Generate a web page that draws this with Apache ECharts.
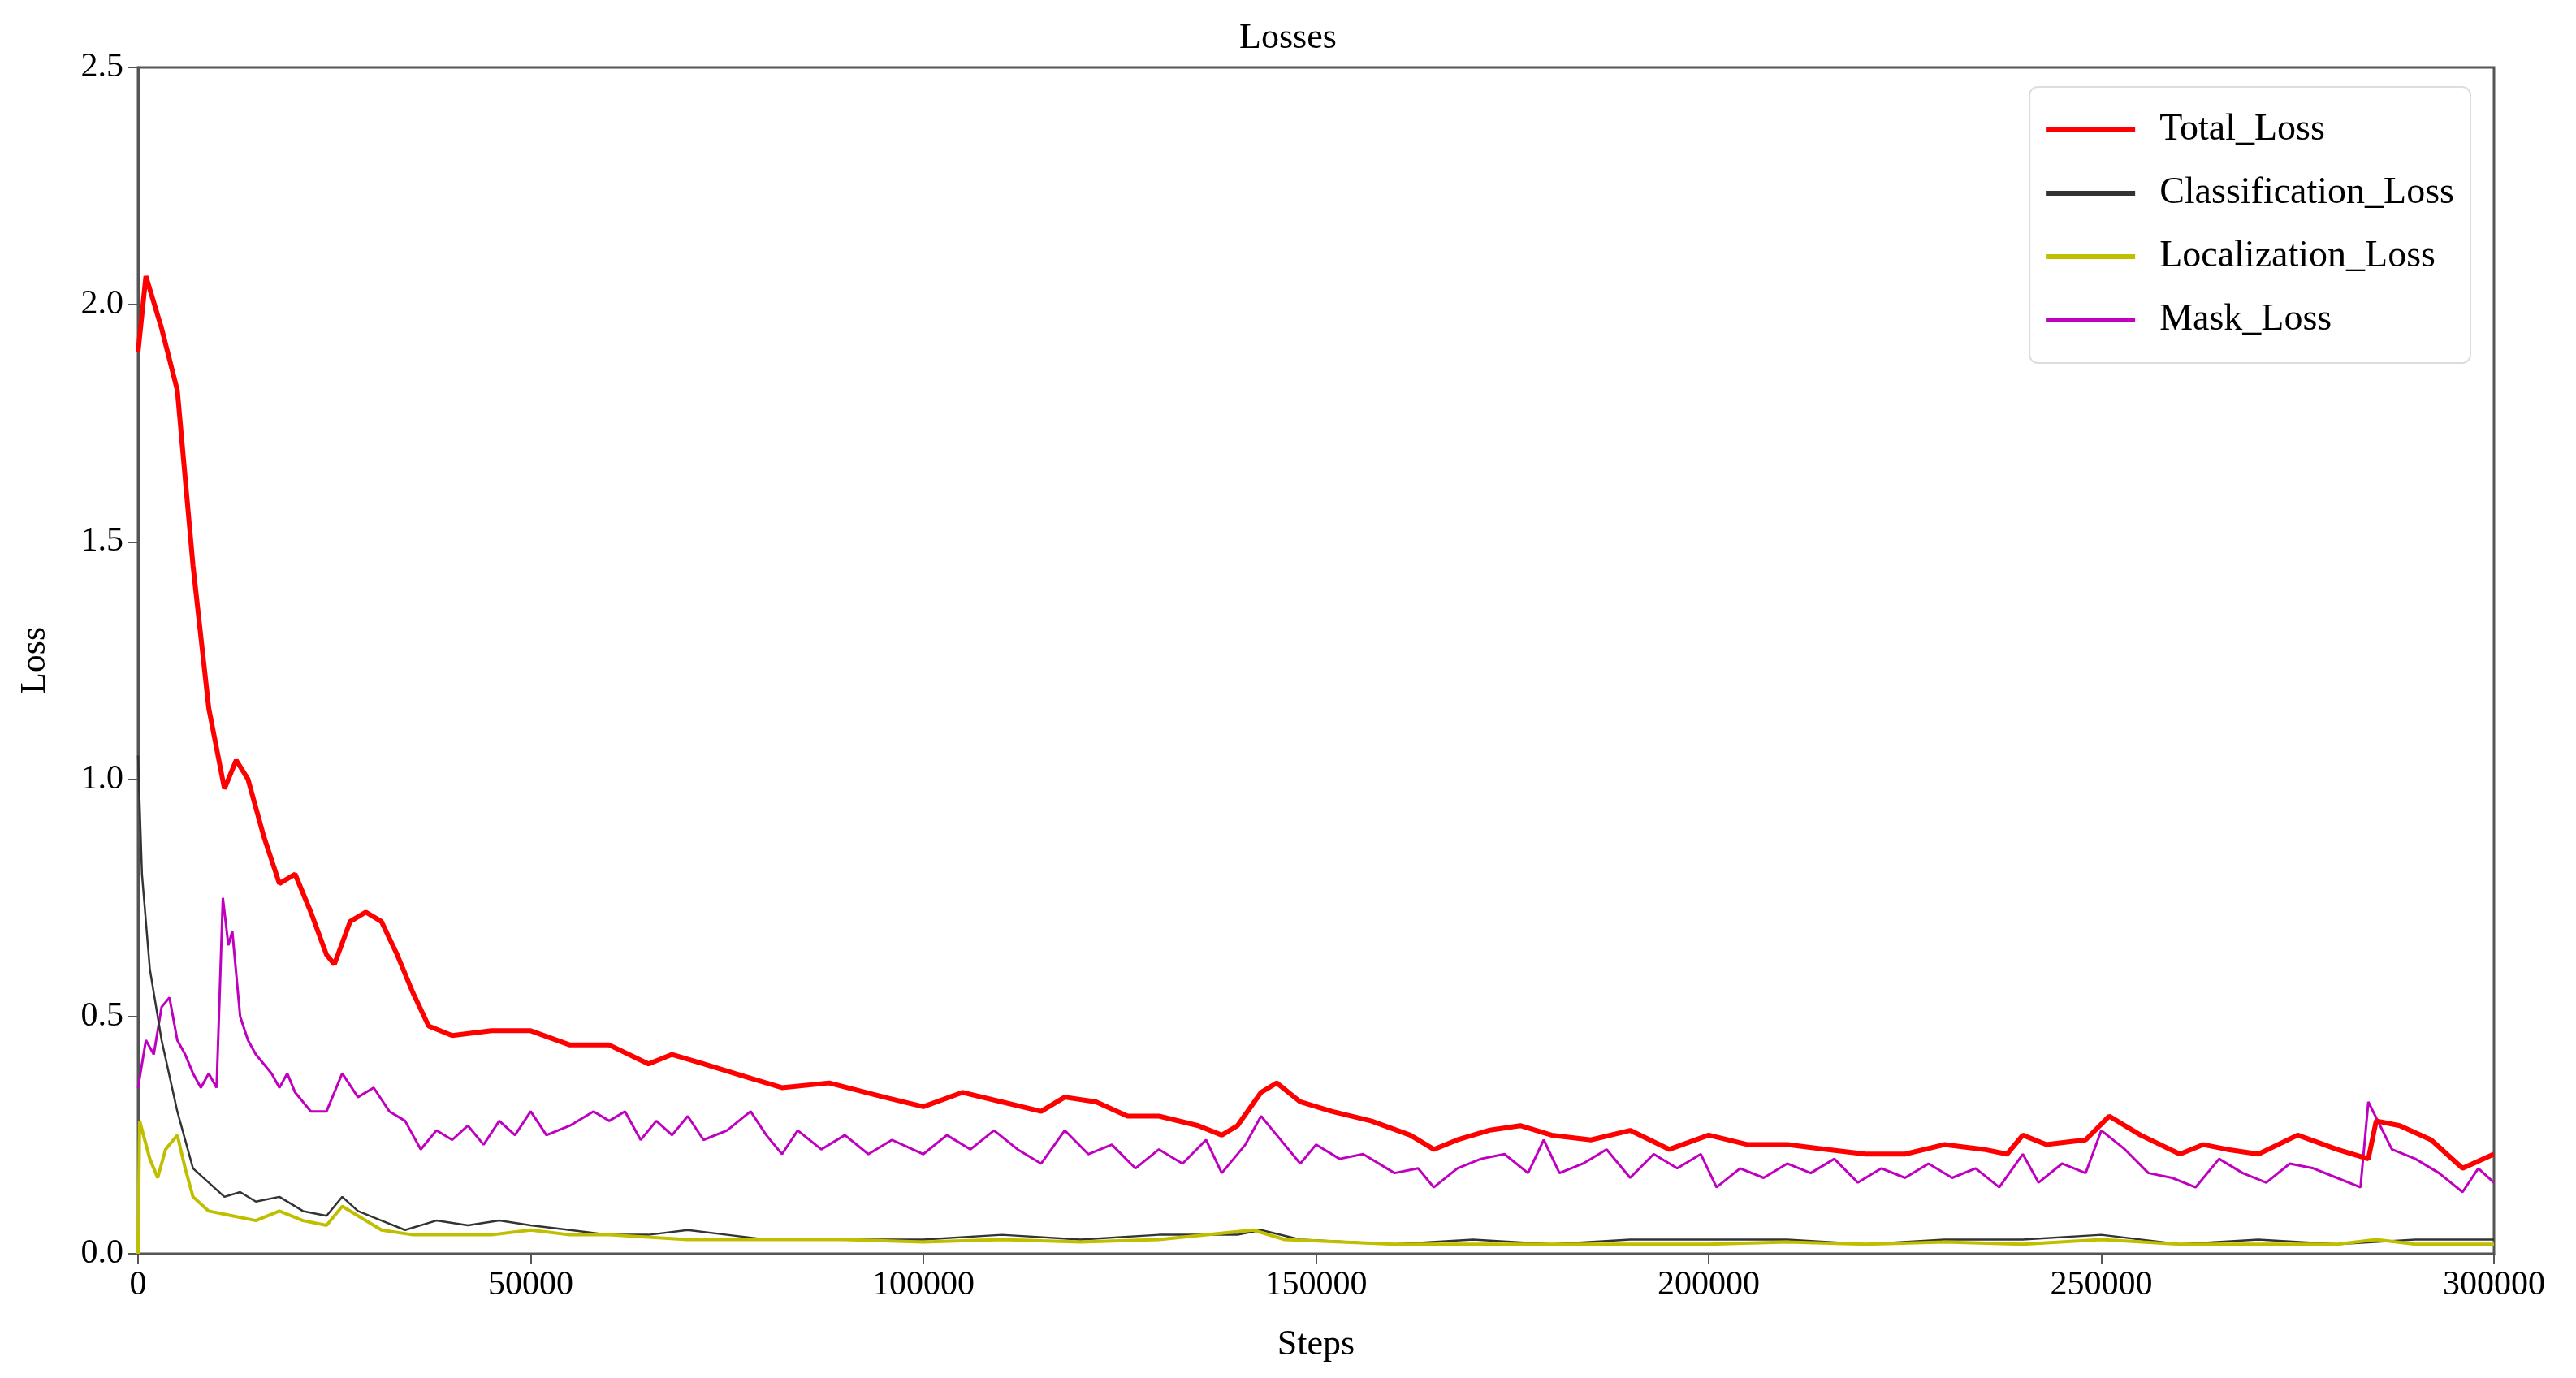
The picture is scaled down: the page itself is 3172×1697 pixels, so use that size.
<!DOCTYPE html>
<html><head><meta charset="utf-8">
<script src="https://cdn.jsdelivr.net/npm/echarts@6/dist/echarts.min.js"></script>
<style>html,body{margin:0;background:#fff}#c{width:3172px;height:1697px}</style>
</head><body><div id="c"></div>
<script>
const totalX=[0,1000,3000,5000,7000,9000,11000,12500,14000,16000,18000,20000,22000,24000,25000,27000,29000,31000,33000,35000,37000,40000,45000,50000,55000,60000,65000,68000,72000,78000,82000,88000,95000,100000,105000,110000,115000,118000,122000,126000,130000,135000,138000,140000,143000,145000,148000,152000,157000,162000,165000,168000,172000,176000,180000,185000,190000,195000,200000,205000,210000,215000,220000,225000,230000,235000,238000,240000,243000,248000,251000,255000,260000,263000,266000,270000,275000,280000,284000,285000,288000,292000,296000,300000];
const totalY=[1.9,2.06,1.95,1.82,1.45,1.15,0.98,1.04,1.0,0.88,0.78,0.80,0.72,0.63,0.61,0.70,0.72,0.70,0.63,0.55,0.48,0.46,0.47,0.47,0.44,0.44,0.40,0.42,0.40,0.37,0.35,0.36,0.33,0.31,0.34,0.32,0.30,0.33,0.32,0.29,0.29,0.27,0.25,0.27,0.34,0.36,0.32,0.30,0.28,0.25,0.22,0.24,0.26,0.27,0.25,0.24,0.26,0.22,0.25,0.23,0.23,0.22,0.21,0.21,0.23,0.22,0.21,0.25,0.23,0.24,0.29,0.25,0.21,0.23,0.22,0.21,0.25,0.22,0.20,0.28,0.27,0.24,0.18,0.21];
const maskX=[0,1000,2000,3000,4000,5000,6000,7000,8000,9000,10000,10800,11500,12000,13000,14000,15000,17000,18000,19000,20000,22000,24000,26000,28000,30000,32000,34000,36000,38000,40000,42000,44000,46000,48000,50000,52000,55000,58000,60000,62000,64000,66000,68000,70000,72000,75000,78000,80000,82000,84000,87000,90000,93000,96000,100000,103000,106000,109000,112000,115000,118000,121000,124000,127000,130000,133000,136000,138000,141000,143000,145000,148000,150000,153000,156000,160000,163000,165000,168000,171000,174000,177000,179000,181000,184000,187000,190000,193000,196000,199000,201000,204000,207000,210000,213000,216000,219000,222000,225000,228000,231000,234000,237000,240000,242000,245000,248000,250000,253000,256000,259000,262000,265000,268000,271000,274000,277000,280000,283000,284000,287000,290000,293000,296000,298000,300000];
const maskY=[0.35,0.45,0.42,0.52,0.54,0.45,0.42,0.38,0.35,0.38,0.35,0.75,0.65,0.68,0.50,0.45,0.42,0.38,0.35,0.38,0.34,0.30,0.30,0.38,0.33,0.35,0.30,0.28,0.22,0.26,0.24,0.27,0.23,0.28,0.25,0.30,0.25,0.27,0.30,0.28,0.30,0.24,0.28,0.25,0.29,0.24,0.26,0.30,0.25,0.21,0.26,0.22,0.25,0.21,0.24,0.21,0.25,0.22,0.26,0.22,0.19,0.26,0.21,0.23,0.18,0.22,0.19,0.24,0.17,0.23,0.29,0.25,0.19,0.23,0.20,0.21,0.17,0.18,0.14,0.18,0.20,0.21,0.17,0.24,0.17,0.19,0.22,0.16,0.21,0.18,0.21,0.14,0.18,0.16,0.19,0.17,0.20,0.15,0.18,0.16,0.19,0.16,0.18,0.14,0.21,0.15,0.19,0.17,0.26,0.22,0.17,0.16,0.14,0.20,0.17,0.15,0.19,0.18,0.16,0.14,0.32,0.22,0.20,0.17,0.13,0.18,0.15];
const clsX=[0,500,1500,3000,5000,7000,9000,11000,13000,15000,18000,21000,24000,26000,28000,31000,34000,38000,42000,46000,50000,55000,60000,65000,70000,75000,80000,90000,100000,110000,120000,130000,140000,143000,148000,160000,170000,180000,190000,200000,210000,220000,230000,240000,250000,260000,270000,280000,290000,300000];
const clsY=[1.05,0.8,0.6,0.45,0.30,0.18,0.15,0.12,0.13,0.11,0.12,0.09,0.08,0.12,0.09,0.07,0.05,0.07,0.06,0.07,0.06,0.05,0.04,0.04,0.05,0.04,0.03,0.03,0.03,0.04,0.03,0.04,0.04,0.05,0.03,0.02,0.03,0.02,0.03,0.03,0.03,0.02,0.03,0.03,0.04,0.02,0.03,0.02,0.03,0.03];
const locX=[0,200,1500,2500,3500,5000,6000,7000,9000,12000,15000,18000,21000,24000,26000,28000,31000,35000,40000,45000,50000,55000,60000,70000,80000,90000,100000,110000,120000,130000,142000,146000,160000,170000,180000,190000,200000,210000,220000,230000,240000,250000,260000,270000,280000,285000,290000,300000];
const locY=[0.0,0.28,0.20,0.16,0.22,0.25,0.18,0.12,0.09,0.08,0.07,0.09,0.07,0.06,0.10,0.08,0.05,0.04,0.04,0.04,0.05,0.04,0.04,0.03,0.03,0.03,0.025,0.03,0.025,0.03,0.05,0.03,0.02,0.02,0.02,0.02,0.02,0.025,0.02,0.025,0.02,0.03,0.02,0.02,0.02,0.03,0.02,0.02];
const xTicks=[0,50000,100000,150000,200000,250000,300000];
const yTicks=[0.0,0.5,1.0,1.5,2.0,2.5];

const zip=(a,b)=>a.map((x,i)=>[x,b[i]]);
const F='Liberation Serif';
const chart=echarts.init(document.getElementById('c'));
chart.setOption({
  animation:false,
  title:{text:'Losses',left:'center',top:20,textStyle:{fontFamily:F,fontSize:44,fontWeight:'normal',color:'#000'}},
  grid:{left:170,right:101,top:83,bottom:153,show:true,borderColor:'#555',borderWidth:3,containLabel:false},
  legend:{right:130,top:107,orient:'vertical',itemWidth:110,itemHeight:6,itemGap:32,padding:[30,20,30,20],
    borderColor:'#ddd',borderWidth:2,borderRadius:10,backgroundColor:'#fff',icon:'rect',
    textStyle:{fontFamily:F,fontSize:46,color:'#000',padding:[0,0,0,25]},
    data:['Total_Loss','Classification_Loss','Localization_Loss','Mask_Loss']},
  xAxis:{type:'value',min:0,max:300000,interval:50000,name:'Steps',nameLocation:'middle',nameGap:90,
    nameTextStyle:{fontFamily:F,fontSize:44,color:'#000'},
    axisLine:{lineStyle:{color:'#555',width:3}},axisTick:{length:12,lineStyle:{color:'#555',width:2}},
    axisLabel:{fontFamily:F,fontSize:42,color:'#000',margin:18,formatter:v=>xTicks.includes(v)?String(v):''},splitLine:{show:false}},
  yAxis:{type:'value',min:0,max:2.5,interval:0.5,name:'Loss',nameLocation:'middle',nameGap:105,
    nameTextStyle:{fontFamily:F,fontSize:44,color:'#000'},
    axisLine:{lineStyle:{color:'#555',width:3}},axisTick:{length:12,lineStyle:{color:'#555',width:2}},
    axisLabel:{fontFamily:F,fontSize:42,color:'#000',margin:18,formatter:v=>yTicks.includes(+v.toFixed(1))?v.toFixed(1):''},splitLine:{show:false}},
  series:[
    {name:'Total_Loss',type:'line',data:zip(totalX,totalY),showSymbol:false,color:'#ff0000',lineStyle:{width:6},z:5},
    {name:'Classification_Loss',type:'line',data:zip(clsX,clsY),showSymbol:false,color:'#333333',lineStyle:{width:2.5},z:3},
    {name:'Localization_Loss',type:'line',data:zip(locX,locY),showSymbol:false,color:'#bfbf00',lineStyle:{width:4},z:4},
    {name:'Mask_Loss',type:'line',data:zip(maskX,maskY),showSymbol:false,color:'#bf00bf',lineStyle:{width:3},z:2}
  ]
});
</script></body></html>
